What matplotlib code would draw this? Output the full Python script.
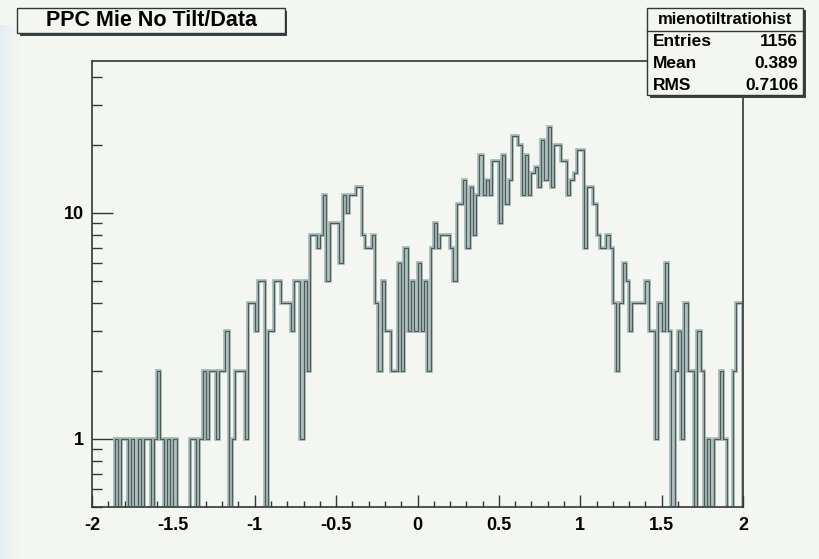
import matplotlib
matplotlib.use("Agg")
import matplotlib.pyplot as plt
import numpy as np
from matplotlib.patches import Rectangle
from matplotlib.ticker import LogLocator, MultipleLocator, FixedLocator, FixedFormatter, NullFormatter

FONT = ["Liberation Sans", "DejaVu Sans"]
BG = "#f4f6f2"
INK = "#2e3838"

# mienotiltratiohist: 200 bins on [-2, 2]
x_range = (-2.0, 2.0)
n_bins = 200
counts = [
    0, 0, 0, 0, 0, 0, 0, 1, 0, 1, 1, 0, 1, 0, 1, 0, 1, 1, 0, 1,
    2, 1, 0, 1, 0, 1, 0, 0, 0, 0, 1, 1, 0, 1, 2, 1, 2, 2, 1, 2,
    2, 3, 0, 1, 2, 2, 2, 1, 4, 4, 3, 5, 5, 0, 3, 3, 5, 5, 4, 4,
    4, 3, 5, 5, 1, 5, 2, 8, 8, 7, 8, 12, 5, 9, 9, 9, 6, 12, 10, 12,
    12, 13, 13, 8, 7, 7, 8, 4, 2, 5, 3, 3, 2, 2, 6, 2, 7, 3, 5, 3,
    6, 3, 5, 2, 7, 9, 7, 8, 8, 8, 7, 5, 11, 11, 14, 7, 13, 8, 12, 18,
    12, 14, 12, 17, 17, 9, 18, 11, 14, 22, 22, 20, 12, 18, 12, 15, 16, 13, 21, 14,
    24, 13, 20, 20, 17, 17, 12, 14, 15, 19, 19, 7, 13, 13, 11, 8, 7, 7, 8, 7,
    4, 2, 4, 6, 5, 3, 4, 4, 4, 4, 5, 3, 3, 1, 4, 3, 6, 3, 0, 2,
    3, 1, 4, 2, 2, 0, 3, 2, 0, 1, 0, 1, 1, 2, 1, 0, 0, 2, 4, 4,
]
hist_name = "mienotiltratiohist"
stat_names = ["Entries", "Mean", "RMS"]
stat_values = ["1156", "0.389", "0.7106"]
title = "PPC Mie No Tilt/Data"

y_range = (0.5, 47.0)
x_major_ticks = [-2, -1.5, -1, -0.5, 0, 0.5, 1, 1.5, 2]
x_tick_labels = ["-2", "-1.5", "-1", "-0.5", "0", "0.5", "1", "1.5", "2"]
y_major_ticks = [1, 10]
y_tick_labels = ["1", "10"]

W, H = 819, 559
fig = plt.figure(figsize=(W / 100, H / 100), dpi=100)
fig.patch.set_facecolor(BG)


def px_box(x0, y0, x1, y1):
    """pixel box (top-left origin) -> figure fraction rect"""
    return [x0 / W, 1 - y1 / H, (x1 - x0) / W, (y1 - y0) / H]


# faint blue strip down the left edge of the canvas
strip = fig.add_axes(px_box(0, 25, 20, H))
grad = np.linspace(1, 0, 64)[None, :]
strip.imshow(np.dstack([np.full_like(grad, 0.80), np.full_like(grad, 0.88),
                        np.full_like(grad, 0.97), grad * 0.35]),
             aspect="auto", extent=[0, 1, 0, 1])
strip.axis("off")

ax = fig.add_axes(px_box(92, 61, 743, 507))
ax.set_facecolor(BG)

edges = np.linspace(x_range[0], x_range[1], n_bins + 1)
vals = np.asarray(counts, dtype=float)
vals_plot = np.where(vals > 0, vals, 1e-2)
ax.stairs(vals_plot, edges, baseline=1e-2, color="#a3b5b3", linewidth=2.6, zorder=2)
ax.stairs(vals_plot, edges, baseline=1e-2, color="#4a5b5a", linewidth=0.8, zorder=3)

ax.set_yscale("log")
ax.set_xlim(*x_range)
ax.set_ylim(*y_range)

ax.xaxis.set_major_locator(FixedLocator(x_major_ticks))
ax.xaxis.set_major_formatter(FixedFormatter(x_tick_labels))
ax.xaxis.set_minor_locator(MultipleLocator(0.1))
ax.yaxis.set_major_locator(FixedLocator(y_major_ticks))
ax.yaxis.set_major_formatter(FixedFormatter(y_tick_labels))
ax.yaxis.set_minor_locator(LogLocator(base=10, subs=np.arange(2, 10) * 1.0, numticks=20))
ax.yaxis.set_minor_formatter(NullFormatter())

ax.tick_params(axis="both", which="both", direction="in", color=INK,
               top=False, right=False, labelcolor="black")
ax.tick_params(axis="x", which="major", length=9, width=1.0, pad=7)
ax.tick_params(axis="x", which="minor", length=4.5, width=1.0)
ax.tick_params(axis="y", which="major", length=15, width=1.0, pad=6)
ax.tick_params(axis="y", which="minor", length=7.5, width=1.0)
for lab in ax.get_xticklabels() + ax.get_yticklabels():
    lab.set_fontfamily(FONT)
    lab.set_fontweight("bold")
    lab.set_fontsize(13)
for sp in ax.spines.values():
    sp.set_color(INK)
    sp.set_linewidth(1.2)


def _rect(x0, y0, x1, y1):
    r = px_box(x0, y0, x1, y1)
    return (r[0], r[1]), r[2], r[3]


def shadow_box(x0, y0, x1, y1, off=2.5):
    fig.add_artist(Rectangle(*_rect(x0 + off, y0 + off, x1 + off, y1 + off),
                             transform=fig.transFigure, facecolor="#3a4444",
                             edgecolor="none", zorder=5))
    fig.add_artist(Rectangle(*_rect(x0, y0, x1, y1), transform=fig.transFigure,
                             facecolor=BG, edgecolor=INK, linewidth=1.0, zorder=6))


# title box
shadow_box(17, 8, 285, 33)
fig.text(151 / W, 1 - 21 / H, title, ha="center", va="center", fontsize=15.5,
         fontweight="bold", family=FONT, color="black", zorder=7)

# statistics box
shadow_box(647, 8, 803, 95)
fig.add_artist(plt.Line2D([647 / W, 803 / W], [1 - 31 / H, 1 - 31 / H],
                          transform=fig.transFigure, color=INK, linewidth=1.0, zorder=7))
fig.text(725 / W, 1 - 20 / H, hist_name, ha="center", va="center", fontsize=12,
         fontweight="bold", family=FONT, zorder=7)
for i, (name, val) in enumerate(zip(stat_names, stat_values)):
    y = 1 - (42 + 22 * i) / H
    fig.text(653 / W, y, name, ha="left", va="center", fontsize=12.5,
             fontweight="bold", family=FONT, zorder=7)
    fig.text(798 / W, y, val, ha="right", va="center", fontsize=12.5,
             fontweight="bold", family=FONT, zorder=7)

fig.savefig("out.png", dpi=100, facecolor=BG)
